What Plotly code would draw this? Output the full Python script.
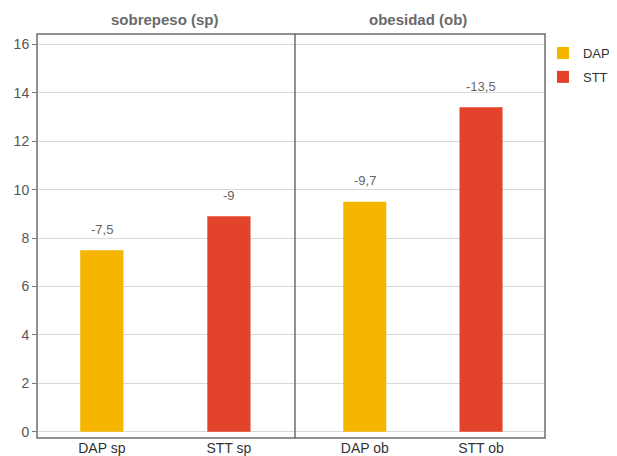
import plotly.graph_objects as go

# ---- data ----
series = ["DAP", "STT"]
groups = ["sobrepeso (sp)", "obesidad (ob)"]
cats_sp = ["DAP sp", "STT sp"]
cats_ob = ["DAP ob", "STT ob"]
values_sp = [7.5, 8.9]
values_ob = [9.5, 13.4]
labels_sp = ["-7,5", "-9"]
labels_ob = ["-9,7", "-13,5"]
y_ticks = [0, 2, 4, 6, 8, 10, 12, 14, 16]

colors = {"DAP": "#F6B600", "STT": "#E3432A"}
FONT = "Liberation Sans, Arial, sans-serif"

fig = go.Figure()

panels = [("x", cats_sp, values_sp, labels_sp, 0.34),
          ("x2", cats_ob, values_ob, labels_ob, 0.37)]

for p, (xa, cats, vals, labs, w) in enumerate(panels):
    for i, s in enumerate(series):
        fig.add_trace(go.Bar(
            x=[cats[i]], y=[vals[i]], xaxis=xa, yaxis="y",
            name=s, legendgroup=s, showlegend=(p == 0),
            marker=dict(color=colors[s], line=dict(width=0)),
            width=w,
        ))
        fig.add_annotation(
            x=cats[i], y=vals[i], xref=xa, yref="y",
            text=labs[i], showarrow=False, yshift=21,
            font=dict(family=FONT, size=13, color="#666666"),
        )

split = 258 / 508

axis_common = dict(
    showgrid=False, zeroline=False, showline=False,
    ticks="", tickfont=dict(family=FONT, size=14, color="#333333"),
    fixedrange=True,
)
# page body has an 8px default margin, so the figure is 8px smaller
fig.update_layout(
    width=609, height=448,
    margin=dict(l=29, r=72, t=26, b=18, autoexpand=False),
    paper_bgcolor="white", plot_bgcolor="white",
    barmode="overlay",
    showlegend=True,
    legend=dict(
        x=0.996, y=0.99, xanchor="left", yanchor="top",
        font=dict(family=FONT, size=13, color="#333333"),
        bgcolor="rgba(0,0,0,0)", tracegroupgap=4,
    ),
    xaxis=dict(domain=[0, split], range=[-0.51, 1.52], anchor="y", **axis_common),
    xaxis2=dict(domain=[split, 1], range=[-0.6, 1.55], anchor="y", **axis_common),
    yaxis=dict(
        range=[-0.26, 16.43], tickvals=y_ticks,
        showgrid=True, gridcolor="#d8d8d8", gridwidth=1,
        zeroline=False, showline=False,
        ticks="outside", ticklen=4, tickcolor="#777777",
        tickfont=dict(family=FONT, size=14, color="#555555"),
        fixedrange=True,
    ),
    font=dict(family=FONT),
)

# panel titles
for gx, g in zip([0.252, 0.75], groups):
    fig.add_annotation(
        x=gx, y=1.0347, xref="paper", yref="paper",
        xanchor="center", yanchor="middle",
        text="<b>" + g + "</b>", showarrow=False,
        font=dict(family=FONT, size=15, color="#6a6a6a"),
    )

# frame and divider
fig.add_shape(type="rect", xref="paper", yref="paper", x0=0, x1=1, y0=0, y1=1,
              line=dict(color="#6e6e6e", width=1.5), layer="above")
fig.add_shape(type="line", xref="paper", yref="paper", x0=split, x1=split, y0=0, y1=1,
              line=dict(color="#6e6e6e", width=1.5), layer="above")

fig.write_html("out.html")
